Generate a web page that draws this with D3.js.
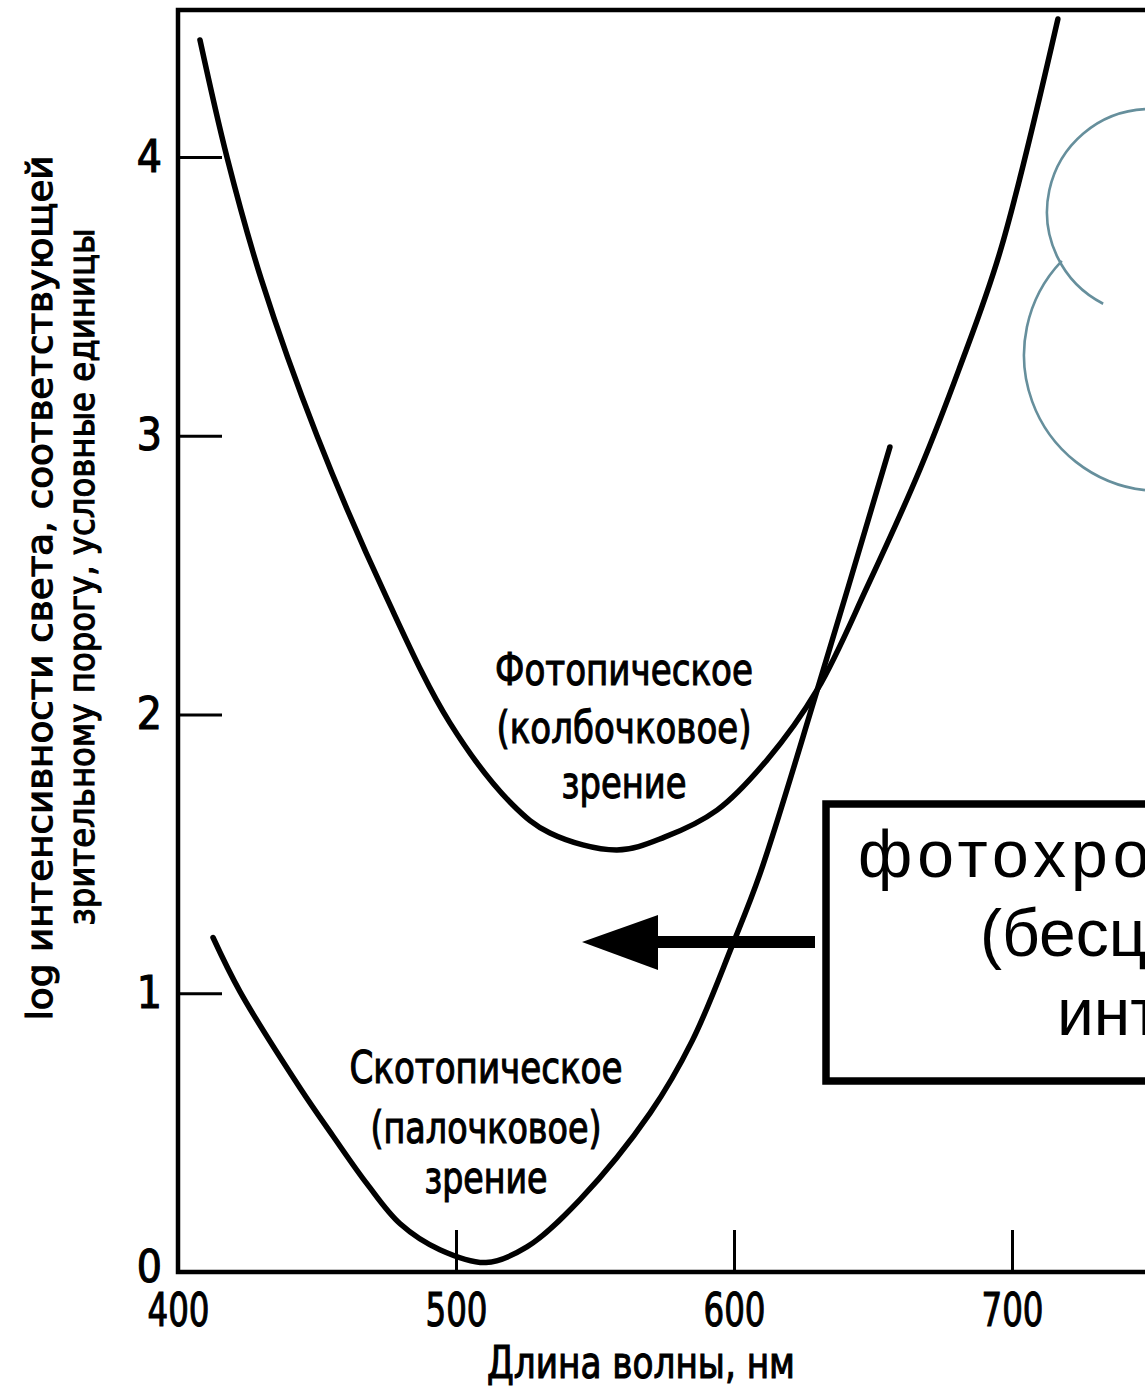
<!DOCTYPE html>
<html>
<head>
<meta charset="utf-8">
<script src="https://cdn.jsdelivr.net/npm/d3@7"></script>
<style>
  html, body { margin: 0; padding: 0; background: #fff; }
  svg { display: block; }
</style>
</head>
<body>
<svg id="chart" width="1145" height="1397"></svg>
<script>
// Threshold curves: wavelength (nm) vs log light intensity at the visual threshold
const photopicWavelength   = [407.9, 417.6, 430, 450, 475, 497.8, 520, 533.8, 557.9, 575, 593.9, 611.9, 630, 648, 666.9, 681, 695.7, 716.5];
const photopicLogIntensity = [4.42, 4.00, 3.56, 3.00, 2.42, 1.97, 1.68, 1.575, 1.514, 1.56, 1.657, 1.837, 2.09, 2.46, 2.88, 3.24, 3.66, 4.495];

const scotopicWavelength   = [412.6, 422.3, 443.9, 455.8, 468.0, 479.9, 494.2, 510.8, 525.5, 544.6, 569.8, 585, 599.3, 609.4, 630, 656.1];
const scotopicLogIntensity = [1.20, 1.006, 0.66, 0.487, 0.316, 0.173, 0.08, 0.034, 0.09, 0.26, 0.57, 0.83, 1.17, 1.43, 2.09, 2.96];

const xTicks = [400, 500, 600, 700];
const yTicks = [0, 1, 2, 3, 4];

const xTitle = "Длина волны, нм";
const yTitle = ["log интенсивности света, соответствующей", "зрительному порогу, условные единицы"];
const photopicLabel = ["Фотопическое", "(колбочковое)", "зрение"];
const scotopicLabel = ["Скотопическое", "(палочковое)", "зрение"];
const calloutLines = ["фотохроматический", "(бесцветный)", "интервал"];

// ---- layout ----
const svg = d3.select("#chart");
const chartFont = "'Liberation Sans Narrow', 'Arial Narrow', 'DejaVu Sans Condensed', sans-serif";
const calloutFont = "'Liberation Sans', Arial, Helvetica, sans-serif";
const frameTop = 10;

const x = d3.scaleLinear().domain([400, 700]).range([178, 1012]);
const y = d3.scaleLinear().domain([0, 4]).range([1272, 157]);

const series = [
  photopicWavelength.map((w, i) => [w, photopicLogIntensity[i]]),
  scotopicWavelength.map((w, i) => [w, scotopicLogIntensity[i]])
];

// plot frame (open to the right, continuing past the page edge)
svg.append("path")
  .attr("d", `M${x(780)},${frameTop}H${x(400)}V${y(0)}H${x(780)}`)
  .attr("fill", "none")
  .attr("stroke", "#000")
  .attr("stroke-width", 4.5);

// axes with inward ticks
const xAxis = svg.append("g")
  .attr("transform", `translate(0,${y(0)})`)
  .call(d3.axisBottom(x).tickValues(xTicks).tickFormat(d3.format("d"))
    .tickSizeInner(-42).tickSizeOuter(0).tickPadding(21));
const yAxis = svg.append("g")
  .attr("transform", `translate(${x(400)},0)`)
  .call(d3.axisLeft(y).tickValues(yTicks).tickFormat(d3.format("d"))
    .tickSizeInner(-44).tickSizeOuter(0).tickPadding(16));

[xAxis, yAxis].forEach(g => {
  g.select(".domain").remove();
  g.selectAll(".tick line").attr("stroke", "#000").attr("stroke-width", 3);
  g.selectAll(".tick text")
    .attr("fill", "#000")
    .attr("stroke", "#000")
    .attr("stroke-width", 1.1)
    .style("font-family", chartFont);
});
xAxis.selectAll(".tick text")
  .style("font-size", "47px")
  .attr("textLength", 62)
  .attr("lengthAdjust", "spacingAndGlyphs");
yAxis.selectAll(".tick text").style("font-size", "44px");
// lift the zero label a little so it clears the wavelength labels
yAxis.selectAll(".tick text").filter(d => d === 0).attr("y", -5);

// curves
const line = d3.line()
  .x(d => x(d[0]))
  .y(d => y(d[1]))
  .curve(d3.curveCatmullRom.alpha(0.5));

svg.selectAll("path.curve")
  .data(series)
  .join("path")
  .attr("class", "curve")
  .attr("d", line)
  .attr("fill", "none")
  .attr("stroke", "#000")
  .attr("stroke-width", 5.5)
  .attr("stroke-linecap", "round")
  .attr("stroke-linejoin", "round");

// helper for stretched chart text
function chartText(g, str, px, py, size, len, rotate) {
  return g.append("text")
    .attr("transform", `translate(${px},${py})` + (rotate ? " rotate(-90)" : ""))
    .attr("text-anchor", "middle")
    .attr("textLength", len)
    .attr("lengthAdjust", "spacingAndGlyphs")
    .attr("fill", "#000")
    .attr("stroke", "#000")
    .attr("stroke-width", 1.1)
    .style("font-family", chartFont)
    .style("font-size", size + "px")
    .text(str);
}

const labels = svg.append("g");

// axis titles
chartText(labels, xTitle, 641, 1378, 44, 308, false);
chartText(labels, yTitle[0], 52, 588, 36, 865, true);
chartText(labels, yTitle[1], 94, 577, 36, 697, true);

// curve labels
const photopicLayout = [[685, 258], [743, 255], [798, 125]];
photopicLabel.forEach((t, i) => chartText(labels, t, 624, photopicLayout[i][0], 45, photopicLayout[i][1], false));
const scotopicLayout = [[1083, 273], [1143, 231], [1193, 123]];
scotopicLabel.forEach((t, i) => chartText(labels, t, 486, scotopicLayout[i][0], 44, scotopicLayout[i][1], false));

// ---- callout: boxed note with arrow ----
const callout = svg.append("g");
callout.append("rect")
  .attr("x", 826).attr("y", 804)
  .attr("width", 420).attr("height", 277)
  .attr("fill", "#fff")
  .attr("stroke", "#000")
  .attr("stroke-width", 7.5);

callout.append("rect")
  .attr("x", 656).attr("y", 936)
  .attr("width", 159).attr("height", 12)
  .attr("fill", "#000");
callout.append("path")
  .attr("d", "M582,942L658,915L658,970Z")
  .attr("fill", "#000");

const calloutLayout = [[858, 877, 5], [980, 956, 0], [1057, 1035, 0]];
calloutLines.forEach((t, i) => {
  callout.append("text")
    .attr("x", calloutLayout[i][0])
    .attr("y", calloutLayout[i][1])
    .attr("fill", "#000")
    .style("font-family", calloutFont)
    .style("font-size", "66px")
    .style("letter-spacing", calloutLayout[i][2] + "px")
    .text(t);
});

// ---- decorative outline arcs at the top right ----
const arcColor = "#668f9c";
function arcPath(cx, cy, r, from, to) {
  const p = d3.path();
  const a0 = Math.atan2(from[1] - cy, from[0] - cx);
  const a1 = Math.atan2(to[1] - cy, to[0] - cx);
  p.arc(cx, cy, r, a0, a1, true);
  return p.toString();
}
const arcs = svg.append("g")
  .attr("fill", "none")
  .attr("stroke", arcColor)
  .attr("stroke-width", 2.6);
arcs.append("path").attr("d", arcPath(1150, 212, 103, [1145, 109], [1103, 304]));
arcs.append("path").attr("d", arcPath(1160, 355, 136, [1063, 262], [1145, 490]));
</script>
</body>
</html>
